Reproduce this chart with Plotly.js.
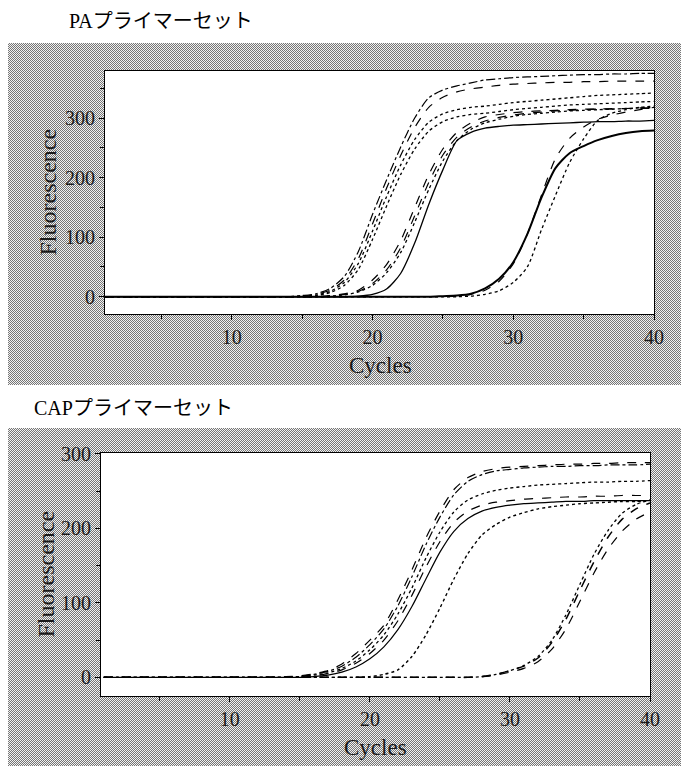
<!DOCTYPE html>
<html>
<head>
<meta charset="utf-8">
<script src="https://cdn.plot.ly/plotly-3.0.1.min.js"></script>
<style>
  html, body { margin: 0; padding: 0; background: #fff; }
  #wrap { position: relative; width: 681px; height: 766px; overflow: hidden; }
  .dither {
    position: absolute;
    background-color: #f2f2f2;
    background-image: repeating-conic-gradient(#767676 0 25%, #f2f2f2 0 50%);
    background-size: 2px 2px;
  }
  #plot { position: absolute; left: 0; top: 0; width: 681px; height: 766px; }
</style>
</head>
<body>
<div id="wrap">
  <div class="dither" style="left:8px; top:43px; width:673px; height:342px;"></div>
  <div class="dither" style="left:8px; top:428px; width:673px; height:338px;"></div>
  <div id="plot"></div>
</div>
<script>
// ---------- data ----------
const cycles = [1,2,3,4,5,6,7,8,9,10,11,12,13,14,15,16,17,18,19,20,21,22,23,24,25,26,27,28,29,30,31,32,33,34,35,36,37,38,39,40];

const xTickLabels = ["10","20","30","40"];
const yTickLabelsPA = ["0","100","200","300"];
const yTickLabelsCAP = ["0","100","200","300"];

const titlePA = "PAプライマーセット";
const titleCAP = "CAPプライマーセット";
const xTitle = "Cycles";
const yTitle = "Fluorescence";

// PA primer set
const paA1 = [0,0,0,0,0,0,0,0,0,0,0,0,0,0,2,5,14,34,76,138,196,251,300,334,347,354,359,364,366,368,369,370,371,372,373,373,374,374,375,375];
const paA2 = [0,0,0,0,0,0,0,0,0,0,0,0,0,0,1,4,11,28,64,122,182,237,284,318,335,344,349,352,355,357,358,359,360,360,361,361,362,362,362,362];
const paA3 = [0,0,0,0,0,0,0,0,0,0,0,0,0,0,1,3,9,24,56,110,168,221,264,293,307,314,318,320,323,326,328,330,332,334,336,338,339,340,341,342];
const paA4 = [0,0,0,0,0,0,0,0,0,0,0,0,0,0,1,2,7,19,46,96,152,205,248,278,294,302,306,308,311,314,316,318,320,322,323,324,325,326,327,328];
const paB1 = [0,0,0,0,0,0,0,0,0,0,0,0,0,0,0,0,2,5,11,28,54,94,150,205,248,276,292,302,306,309,311,312,313,314,315,315,316,316,317,317];
const paB2 = [0,0,0,0,0,0,0,0,0,0,0,0,0,0,0,0,1,4,9,22,45,82,136,192,238,268,285,295,301,305,308,310,312,313,314,315,315,316,316,316];
const paB3 = [0,0,0,0,0,0,0,0,0,0,0,0,0,0,0,0,1,3,8,19,40,74,125,180,228,262,281,292,298,303,306,308,310,312,313,314,315,316,317,318];
const paB4 = [0,0,0,0,0,0,0,0,0,0,0,0,0,0,0,0,0,0,1,4,13,39,90,155,213,262,276,283,286,288,289,290,291,292,293,294,294,295,295,296];
const paC1 = [0,0,0,0,0,0,0,0,0,0,0,0,0,0,0,0,0,0,0,0,0,0,0,0,0,1,4,11,26,55,105,170,232,266,285,298,305,310,314,318];
const paC2 = [0,0,0,0,0,0,0,0,0,0,0,0,0,0,0,0,0,0,0,0,0,0,0,0,1,2,5,14,30,58,105,166,216,241,253,263,270,275,278,279];
const paC3 = [0,0,0,0,0,0,0,0,0,0,0,0,0,0,0,0,0,0,0,0,0,0,0,0,0,0,1,4,10,24,50,112,170,225,265,296,308,314,318,320];

// CAP primer set
const capA1 = [0,0,0,0,0,0,0,0,0,0,0,0,0,1,2,5,9,18,32,50,70,104,144,187,223,252,268,276,280,282,283,284,285,286,286,287,287,288,288,288];
const capA2 = [0,0,0,0,0,0,0,0,0,0,0,0,0,0,1,4,8,15,27,44,65,96,135,178,215,245,263,272,277,279,281,282,283,283,284,284,285,285,285,286];
const capA3 = [0,0,0,0,0,0,0,0,0,0,0,0,0,0,1,3,6,12,22,37,57,85,120,160,195,222,238,246,251,254,256,258,259,260,261,262,262,263,263,264];
const capA4 = [0,0,0,0,0,0,0,0,0,0,0,0,0,0,0,2,5,10,19,32,50,76,110,148,182,208,223,231,235,237,239,240,241,242,242,243,243,244,244,244];
const capA5 = [0,0,0,0,0,0,0,0,0,0,0,0,0,0,0,1,3,7,14,25,41,64,95,132,168,196,213,223,228,231,233,234,235,236,236,237,237,237,237,237];
const capB1 = [0,0,0,0,0,0,0,0,0,0,0,0,0,0,0,0,0,0,0,1,4,10,28,57,93,132,166,191,205,215,221,226,229,231,233,234,235,236,236,237];
const capC1 = [0,0,0,0,0,0,0,0,0,0,0,0,0,0,0,0,0,0,0,0,0,0,0,0,0,0,0,1,4,9,15,26,47,78,117,155,188,212,226,234];
const capC2 = [0,0,0,0,0,0,0,0,0,0,0,0,0,0,0,0,0,0,0,0,0,0,0,0,0,0,0,1,3,7,12,21,38,65,102,140,172,196,212,222];
const capC3 = [0,0,0,0,0,0,0,0,0,0,0,0,0,0,0,0,0,0,0,0,0,0,0,0,0,0,0,1,4,9,16,28,50,84,125,165,197,220,232,238];

// ---------- traces ----------
function tr(y, dash, width, xa, ya) {
  return {
    x: cycles, y: y, type: 'scatter', mode: 'lines',
    line: { color: '#000', width: width, dash: dash, shape: 'spline', smoothing: 0.7 },
    xaxis: xa, yaxis: ya, showlegend: false, hoverinfo: 'skip'
  };
}

const data = [
  tr(paA1, 'dashdot', 1.2, 'x', 'y'),
  tr(paA2, 'dash', 1.2, 'x', 'y'),
  tr(paA3, 'dot', 1.3, 'x', 'y'),
  tr(paA4, 'dot', 1.3, 'x', 'y'),
  tr(paB1, 'dash', 1.2, 'x', 'y'),
  tr(paB2, 'dash', 1.2, 'x', 'y'),
  tr(paB3, 'dot', 1.3, 'x', 'y'),
  tr(paB4, 'solid', 1.3, 'x', 'y'),
  tr(paC1, 'dash', 1.2, 'x', 'y'),
  tr(paC2, 'solid', 2, 'x', 'y'),
  tr(paC3, 'dot', 1.3, 'x', 'y'),

  tr(capA1, 'dash', 1.2, 'x2', 'y2'),
  tr(capA2, 'dashdot', 1.2, 'x2', 'y2'),
  tr(capA3, 'dot', 1.3, 'x2', 'y2'),
  tr(capA4, 'dash', 1.2, 'x2', 'y2'),
  tr(capA5, 'solid', 1.2, 'x2', 'y2'),
  tr(capB1, 'dot', 1.4, 'x2', 'y2'),
  tr(capC1, 'dash', 1.5, 'x2', 'y2'),
  tr(capC2, 'dash', 1.2, 'x2', 'y2'),
  tr(capC3, 'dot', 1.3, 'x2', 'y2')
];

// ---------- layout ----------
const tickFont = { family: 'Liberation Serif, DejaVu Serif, serif', size: 20, color: '#1a1a1a' };
const titleFont = { family: 'Liberation Serif, Noto Sans CJK JP, serif', size: 20, color: '#000' };
const yTitleFont = { family: 'Liberation Serif, DejaVu Serif, serif', size: 24, color: '#1a1a1a' };
const xTitleFont = { family: 'Liberation Serif, DejaVu Serif, serif', size: 23, color: '#1a1a1a' };

function xax(domain, range, anchor) {
  return {
    domain: domain, range: range, anchor: anchor,
    tickmode: 'array', tickvals: xTickLabels.map(Number), ticktext: xTickLabels,
    ticks: 'outside', ticklen: 5, tickwidth: 1, tickcolor: '#000',
    minor: { tickmode: 'array', tickvals: [5, 15, 25, 35], ticks: 'outside', ticklen: 4, tickcolor: '#000', showgrid: false },
    showline: true, linecolor: '#000', linewidth: 1, mirror: true,
    showgrid: false, zeroline: false, tickfont: tickFont, fixedrange: true
  };
}
function yax(domain, range, anchor, labels) {
  return {
    domain: domain, range: range, anchor: anchor,
    tickmode: 'array', tickvals: labels.map(Number), ticktext: labels,
    ticks: 'outside', ticklen: 5, tickwidth: 1, tickcolor: '#000',
    minor: { tickmode: 'array', tickvals: [50, 150, 250, 350], ticks: 'outside', ticklen: 4, tickcolor: '#000', showgrid: false },
    showline: true, linecolor: '#000', linewidth: 1, mirror: true,
    showgrid: false, zeroline: false, tickfont: tickFont, fixedrange: true
  };
}

const W = 681, H = 766;
const layout = {
  width: W, height: H,
  margin: { l: 0, r: 0, t: 0, b: 0 },
  paper_bgcolor: 'rgba(0,0,0,0)',
  plot_bgcolor: '#ffffff',
  showlegend: false,
  xaxis: xax([105 / W, 654 / W], [1, 40], 'y'),
  yaxis: yax([1 - 314 / H, 1 - 71 / H], [-29, 379], 'x', yTickLabelsPA),
  xaxis2: xax([101 / W, 650 / W], [0.8, 40], 'y2'),
  yaxis2: yax([1 - 696 / H, 1 - 453 / H], [-25, 301], 'x2', yTickLabelsCAP),
  annotations: [
    { text: titlePA, xref: 'paper', yref: 'paper', x: 67 / W, y: 1 - 21 / H, xanchor: 'left', yanchor: 'middle', showarrow: false, font: titleFont },
    { text: titleCAP, xref: 'paper', yref: 'paper', x: 32 / W, y: 1 - 408 / H, xanchor: 'left', yanchor: 'middle', showarrow: false, font: titleFont },
    { text: yTitle, xref: 'paper', yref: 'paper', x: 47 / W, y: 1 - 192.5 / H, xanchor: 'center', yanchor: 'middle', textangle: -90, showarrow: false, font: yTitleFont },
    { text: xTitle, xref: 'paper', yref: 'paper', x: 380 / W, y: 1 - 365 / H, xanchor: 'center', yanchor: 'middle', showarrow: false, font: xTitleFont },
    { text: yTitle, xref: 'paper', yref: 'paper', x: 45 / W, y: 1 - 574.5 / H, xanchor: 'center', yanchor: 'middle', textangle: -90, showarrow: false, font: yTitleFont },
    { text: xTitle, xref: 'paper', yref: 'paper', x: 375.5 / W, y: 1 - 747 / H, xanchor: 'center', yanchor: 'middle', showarrow: false, font: xTitleFont }
  ]
};

Plotly.newPlot('plot', data, layout, { staticPlot: true, displayModeBar: false });
</script>
</body>
</html>
